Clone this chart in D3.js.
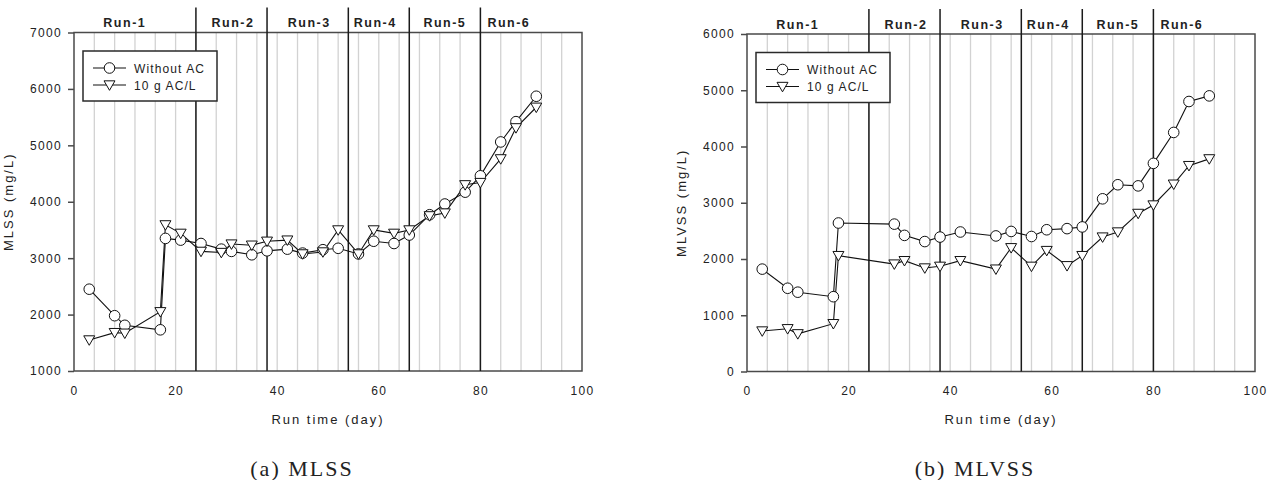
<!DOCTYPE html>
<html>
<head>
<meta charset="utf-8">
<script src="https://cdn.jsdelivr.net/npm/d3@7"></script>
<style>
  body { margin: 0; background: #fff; }
  svg text { font-family: "Liberation Sans", Arial, sans-serif; fill: #222; }
</style>
</head>
<body>
<div id="container"></div>
<script>
// run periods (day boundaries) and where the run names sit
const runBounds = [24, 38, 54, 66, 80];
const runNames = ["Run-1", "Run-2", "Run-3", "Run-4", "Run-5", "Run-6"];
const runLabelDay = [10, 31.3, 46.3, 59.3, 73, 85.6];
const xTicks = [0, 20, 40, 60, 80, 100];
const gridDays = [4, 8, 12, 16, 20, 24, 28, 32, 36, 40, 44, 48, 52, 56, 60, 64, 68, 72, 76, 80, 84, 88, 92, 96];
const seriesNames = ["Without AC", "10 g AC/L"];

// (a) MLSS
const mlssDays = [3, 8, 10, 17, 18, 21, 25, 29, 31, 35, 38, 42, 45, 49, 52, 56, 59, 63, 66, 70, 73, 77, 80, 84, 87, 91];
const mlssWithout = [2450, 1980, 1810, 1730, 3350, 3320, 3260, 3160, 3120, 3060, 3130, 3160, 3090, 3150, 3175, 3075, 3300, 3260, 3410, 3770, 3960, 4170, 4460, 5060, 5420, 5870];
const mlssAC = [1550, 1680, 1670, 2050, 3590, 3440, 3120, 3100, 3250, 3230, 3300, 3320, 3075, 3110, 3500, 3075, 3500, 3440, 3500, 3750, 3800, 4300, 4340, 4760, 5310, 5675];
const mlssTicks = [1000, 2000, 3000, 4000, 5000, 6000, 7000];

// (b) MLVSS
const mlvssDays = [3, 8, 10, 17, 18, 29, 31, 35, 38, 42, 49, 52, 56, 59, 63, 66, 70, 73, 77, 80, 84, 87, 91];
const mlvssWithout = [1820, 1480, 1410, 1330, 2640, 2620, 2420, 2310, 2390, 2480, 2410, 2490, 2400, 2520, 2540, 2570, 3070, 3320, 3300, 3700, 4250, 4800, 4900];
const mlvssAC = [720, 760, 670, 850, 2060, 1910, 1970, 1840, 1870, 1970, 1820, 2200, 1870, 2150, 1880, 2060, 2390, 2480, 2810, 2960, 3330, 3660, 3780];
const mlvssTicks = [0, 1000, 2000, 3000, 4000, 5000, 6000];

const w = 1269;
const h = 480;

const svg = d3.select("#container")
  .append("svg")
  .attr("width", w)
  .attr("height", h);

const triangle = d3.symbol().type(d3.symbolTriangle).size(52);

function drawMarker(g, kind, x, y) {
  if (kind === 0) {
    g.append("circle")
      .attr("cx", x).attr("cy", y).attr("r", 5.3)
      .attr("fill", "#fff").attr("stroke", "#111").attr("stroke-width", 1);
  } else {
    g.append("path")
      .attr("d", triangle)
      .attr("transform", "translate(" + x + "," + (y - 1) + ") rotate(180)")
      .attr("fill", "#fff").attr("stroke", "#111").attr("stroke-width", 1);
  }
}

function drawPanel(p) {
  const x = d3.scaleLinear().domain([0, 100]).range([p.left, p.right]);
  const y = d3.scaleLinear().domain(p.yDomain).range([p.bottom, p.top]);
  const g = svg.append("g");

  // light vertical grid every 4 days
  g.selectAll(".grid")
    .data(gridDays)
    .enter()
    .append("line")
    .attr("x1", (d) => x(d)).attr("x2", (d) => x(d))
    .attr("y1", p.top).attr("y2", p.bottom)
    .attr("stroke", "#d2d2d2").attr("stroke-width", 1.3);

  // frame
  g.append("rect")
    .attr("x", p.left).attr("y", p.top)
    .attr("width", p.right - p.left).attr("height", p.bottom - p.top)
    .attr("fill", "none").attr("stroke", "#4a4a4a").attr("stroke-width", 1.5);

  // run separators, reaching up above the frame
  g.selectAll(".run")
    .data(runBounds)
    .enter()
    .append("line")
    .attr("x1", (d) => x(d)).attr("x2", (d) => x(d))
    .attr("y1", p.top - 25).attr("y2", p.bottom)
    .attr("stroke", "#1a1a1a").attr("stroke-width", 1.5);

  g.selectAll(".runlabel")
    .data(runNames)
    .enter()
    .append("text")
    .attr("x", (d, i) => x(runLabelDay[i]))
    .attr("y", p.top - 5.5)
    .attr("text-anchor", "middle")
    .style("font-size", "12.5px")
    .style("font-weight", "bold")
    .style("letter-spacing", "1.5px")
    .text((d) => d);

  // axes
  const yAxis = d3.axisLeft(y).tickValues(p.yTicks).tickFormat(d3.format("d"))
    .tickSize(6).tickPadding(6).tickSizeOuter(0);
  const ya = g.append("g")
    .attr("transform", "translate(" + p.left + ",0)")
    .call(yAxis);
  ya.select(".domain").remove();
  ya.selectAll("line").attr("stroke", "#4a4a4a").attr("stroke-width", 1.5);
  ya.selectAll("text").style("font-size", "12px").style("letter-spacing", "1.3px").attr("fill", "#222");

  const xAxis = d3.axisBottom(x).tickValues(xTicks).tickSize(0).tickPadding(15);
  const xa = g.append("g")
    .attr("transform", "translate(0," + p.bottom + ")")
    .call(xAxis);
  xa.select(".domain").remove();
  xa.selectAll("text").style("font-size", "12px").style("letter-spacing", "1.3px").attr("fill", "#222");

  g.append("text")
    .attr("x", (p.left + p.right) / 2)
    .attr("y", 424)
    .attr("text-anchor", "middle")
    .style("font-size", "13px")
    .style("letter-spacing", "2px")
    .text("Run time (day)");

  g.append("text")
    .attr("transform", "translate(" + (p.left - 61) + "," + ((p.top + p.bottom) / 2) + ") rotate(-90)")
    .attr("text-anchor", "middle")
    .style("font-size", "13px")
    .style("letter-spacing", "2px")
    .text(p.yTitle);

  // series
  const line = d3.line();
  p.series.forEach((vals, k) => {
    const pts = p.days.map((d, i) => [x(d), y(vals[i])]);
    g.append("path")
      .attr("d", line(pts))
      .attr("fill", "none").attr("stroke", "#111").attr("stroke-width", 1.1);
  });
  p.series.forEach((vals, k) => {
    p.days.forEach((d, i) => drawMarker(g, k, x(d), y(vals[i])));
  });

  // legend
  const lg = g.append("g").attr("transform", "translate(" + (p.left + 9) + "," + (p.top + 18.5) + ")");
  lg.append("rect")
    .attr("width", 134).attr("height", 50)
    .attr("fill", "#fff").attr("stroke", "#2a2a2a").attr("stroke-width", 1.5);
  seriesNames.forEach((name, k) => {
    const ry = 17 + k * 17;
    lg.append("line")
      .attr("x1", 10).attr("x2", 43).attr("y1", ry).attr("y2", ry)
      .attr("stroke", "#111").attr("stroke-width", 1.1);
    drawMarker(lg, k, 26.5, ry);
    lg.append("text")
      .attr("x", 51).attr("y", ry + 4.5)
      .style("font-size", "12px")
      .style("letter-spacing", "1.1px")
      .text(name);
  });

  svg.append("text")
    .attr("x", (p.left + p.right) / 2 - 26)
    .attr("y", 476)
    .attr("text-anchor", "middle")
    .style("font-family", "'Liberation Serif', 'Times New Roman', serif")
    .style("font-size", "22px")
    .style("letter-spacing", "2px")
    .attr("fill", "#111")
    .text(p.caption);
}

drawPanel({
  left: 74, right: 582, top: 32.5, bottom: 371,
  yDomain: [1000, 7000], yTicks: mlssTicks,
  yTitle: "MLSS (mg/L)",
  days: mlssDays, series: [mlssWithout, mlssAC],
  caption: "(a)  MLSS"
});

drawPanel({
  left: 747, right: 1255, top: 34, bottom: 371.5,
  yDomain: [0, 6000], yTicks: mlvssTicks,
  yTitle: "MLVSS (mg/L)",
  days: mlvssDays, series: [mlvssWithout, mlvssAC],
  caption: "(b)  MLVSS"
});
</script>
</body>
</html>
